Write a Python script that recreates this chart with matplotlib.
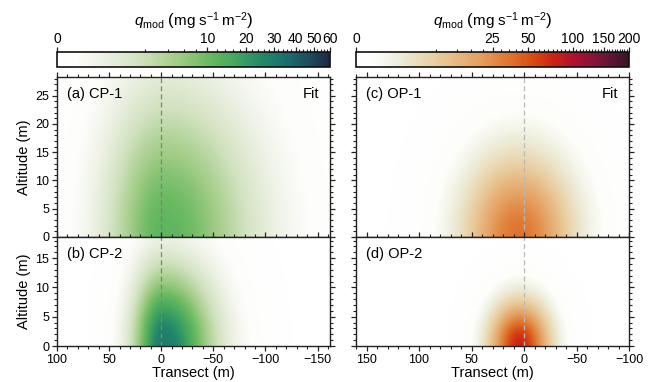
import numpy as np
import matplotlib
matplotlib.use("Agg")
import matplotlib.pyplot as plt
from matplotlib.colors import LinearSegmentedColormap, PowerNorm

plt.rcParams['font.family'] = ['Liberation Sans', 'DejaVu Sans']
plt.rcParams['mathtext.fontset'] = 'custom'
plt.rcParams['mathtext.rm'] = 'Liberation Sans'
plt.rcParams['mathtext.it'] = 'Liberation Sans:italic'
plt.rcParams['axes.unicode_minus'] = True

# ---------------- data (fitted plume parameters) -------------
panel_labels = ['(a) CP-1', '(b) CP-2', '(c) OP-1', '(d) OP-2']
peak_q = [12.0, 30.0, 36.0, 75.0]          # mg s-1 m-2
center_x = [-3.0, -2.0, 5.0, 4.0]          # m
sigma_x_pos = [25.0, 13.0, 23.0, 12.5]     # m (towards positive transect)
sigma_x_neg = [39.0, 22.0, 23.0, 12.5]     # m (towards negative transect)
sigma_z = [11.5, 6.0, 6.3, 3.3]            # m

xlim_left = (100, -162)
xlim_right = (160, -100)
ylim_top = 28.3
ylim_bottom = 18.6

x_ticks_left = [100, 50, 0, -50, -100, -150]
x_ticks_right = [150, 100, 50, 0, -50, -100]
y_ticks_top = [0, 5, 10, 15, 20, 25]
y_ticks_bottom = [0, 5, 10, 15]

cbar_ticks_green = [0, 10, 20, 30, 40, 50, 60]
cbar_ticks_orange = [0, 25, 50, 100, 150, 200]
vmax_green = 60
vmax_orange = 200

green_colors = ['#ffffff', '#fdfdfb', '#eef2e6', '#d2e2c0', '#9fcb84', '#6cbb62',
                '#45a85e', '#23886a', '#1a6b6c', '#1c4a5e', '#1d2844']
green_pos = [0, 0.07, 0.16, 0.3, 0.45, 0.55, 0.65, 0.75, 0.85, 0.93, 1.0]
orange_colors = ['#ffffff', '#fdfdfa', '#eeeedd', '#e8cc9c', '#e5a060', '#e07a35',
                 '#d84a12', '#cc2416', '#b01030', '#74163a', '#3a1428']
orange_pos = [0, 0.07, 0.15, 0.3, 0.45, 0.55, 0.65, 0.72, 0.8, 0.9, 1.0]

cmap_green = LinearSegmentedColormap.from_list('grn', list(zip(green_pos, green_colors)))
cmap_orange = LinearSegmentedColormap.from_list('org', list(zip(orange_pos, orange_colors)))


def plume(i, x, z):
    dx = x - center_x[i]
    s = np.where(dx >= 0, sigma_x_pos[i], sigma_x_neg[i])
    return peak_q[i] * np.exp(-dx ** 2 / (2 * s ** 2)) * np.exp(-z ** 2 / (2 * sigma_z[i] ** 2))


fig = plt.figure(figsize=(6.57, 3.82), dpi=100)
W = 0.4155
lefts = [0.0868, 0.5419]
ax_a = fig.add_axes([lefts[0], 0.3796, W, 0.4188])
ax_b = fig.add_axes([lefts[0], 0.0942, W, 0.2853])
ax_c = fig.add_axes([lefts[1], 0.3796, W, 0.4188])
ax_d = fig.add_axes([lefts[1], 0.0942, W, 0.2853])
axes = [ax_a, ax_b, ax_c, ax_d]

spine_col = '#222222'
ims = []
for i, ax in enumerate(axes):
    left_col = i < 2
    top_row = i % 2 == 0
    xl = xlim_left if left_col else xlim_right
    yt = ylim_top if top_row else ylim_bottom
    cmap = cmap_green if left_col else cmap_orange
    vmax = vmax_green if left_col else vmax_orange
    xs = np.linspace(min(xl), max(xl), 700)
    zs = np.linspace(0, yt, 300)
    X, Z = np.meshgrid(xs, zs)
    Q = plume(i, X, Z)
    im = ax.imshow(Q, origin='lower', extent=[xs[0], xs[-1], 0, yt], aspect='auto',
                   cmap=cmap, norm=PowerNorm(gamma=1 / 3, vmin=0, vmax=vmax),
                   interpolation='bilinear')
    ims.append(im)
    ax.set_xlim(xl)
    ax.set_ylim(0, yt)
    ax.axvline(0, color='0.5' if left_col else '0.72', ls=(0, (4, 2.5)), lw=0.9)
    for sp in ax.spines.values():
        sp.set_linewidth(1.0)
        sp.set_color(spine_col)
    ax.set_xticks(x_ticks_left if left_col else x_ticks_right)
    ax.set_yticks(y_ticks_top if top_row else y_ticks_bottom)
    ax.xaxis.set_minor_locator(plt.MultipleLocator(10))
    ax.yaxis.set_minor_locator(plt.MultipleLocator(1))
    ax.tick_params(which='both', direction='out', color=spine_col, labelsize=9,
                   left=True, right=True, top=True, bottom=not top_row,
                   labelbottom=not top_row, labelleft=left_col, pad=2)
    ax.tick_params(which='major', length=3.5, width=0.9)
    ax.tick_params(which='minor', length=2, width=0.8)
    ax.annotate(panel_labels[i], xy=(0, 1), xycoords='axes fraction',
                xytext=(7.5, -7), textcoords='offset points',
                ha='left', va='top', fontsize=10.5)
    if top_row:
        ax.annotate('Fit', xy=(1, 1), xycoords='axes fraction',
                    xytext=(-8, -7), textcoords='offset points',
                    ha='right', va='top', fontsize=10.5)
    if left_col:
        ax.set_ylabel('Altitude (m)', fontsize=10.5, labelpad=3)
    if not top_row:
        ax.set_xlabel('Transect (m)', fontsize=10.5, labelpad=0)

# colorbars
cb_specs = [(0, ims[0], cbar_ticks_green, vmax_green, 2),
            (1, ims[2], cbar_ticks_orange, vmax_orange, 5)]
for col, im, ticks, vmax, minor_step in cb_specs:
    cax = fig.add_axes([lefts[col], 0.8246, W, 0.0393])
    cb = fig.colorbar(im, cax=cax, orientation='horizontal', ticks=ticks)
    cb.outline.set_linewidth(1.2)
    cb.outline.set_edgecolor('#111111')
    cax.xaxis.set_ticks_position('top')
    cax.xaxis.set_label_position('top')
    minor = [v for v in np.arange(0, vmax + 0.1, minor_step) if v not in ticks]
    cax.set_xticks(minor, minor=True)
    cax.set_xticks(ticks)
    cax.set_xticklabels([str(t) for t in ticks], fontsize=10)
    cax.tick_params(which='both', direction='out', color=spine_col, pad=1)
    cax.tick_params(which='major', length=3.5, width=0.9)
    cax.tick_params(which='minor', length=2, width=0.8)
    cax.set_xlabel(r'$q_{\mathrm{mod}}\ \left(\mathrm{mg\ s^{-1}\,m^{-2}}\right)$',
                   fontsize=11, labelpad=4)

fig.savefig('out.png', dpi=100)
